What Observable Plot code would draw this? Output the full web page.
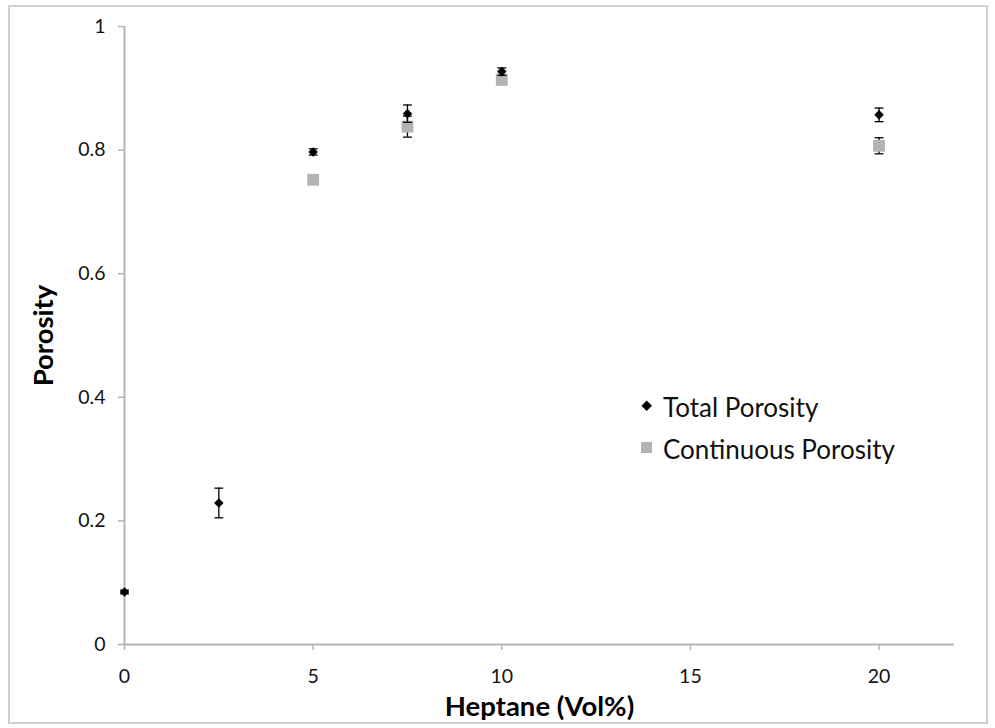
<!DOCTYPE html>
<html>
<head>
<meta charset="utf-8">
<script src="https://cdn.jsdelivr.net/npm/d3@7"></script>
<script src="https://cdn.jsdelivr.net/npm/@observablehq/plot@0.6"></script>
<style>
  html, body { margin: 0; padding: 0; background: #fff; }
  #wrap { position: relative; width: 995px; height: 728px; overflow: hidden; font-family: Lato, "Open Sans", sans-serif; }
  #border { position: absolute; left: 8px; top: 5px; width: 976px; height: 715px; border: 2px solid #d0d0d0; pointer-events: none; }
  #chart { position: absolute; left: 0; top: 0; }
  .leg { position: absolute; font-size: 26px; color: #111; white-space: nowrap; line-height: 1; }
  .leg svg { position: absolute; left: 0; top: 0; }
</style>
</head>
<body>
<div id="wrap">
  <div id="chart"></div>
  <div id="border"></div>
  <div id="legend"></div>
</div>
<script>
// Data
const heptane = [0, 2.5, 5, 7.5, 10, 20];
const totalPorosity = [0.085, 0.229, 0.797, 0.859, 0.927, 0.857];
const totalError = [0.003, 0.024, 0.005, 0.014, 0.006, 0.011];

const continuousHeptane = [5, 7.5, 10, 20];
const continuousPorosity = [0.752, 0.838, 0.914, 0.807];
const continuousError = [0.004, 0.017, 0.008, 0.013];

const xTicks = [0, 5, 10, 15, 20];
const yTicks = [0, 0.2, 0.4, 0.6, 0.8, 1];
const seriesNames = ["Total Porosity", "Continuous Porosity"];
const xTitle = "Heptane (Vol%)";
const yTitle = "Porosity";

const total = heptane.map((x, i) => ({x, y: totalPorosity[i], e: totalError[i]}));
const cont = continuousHeptane.map((x, i) => ({x, y: continuousPorosity[i], e: continuousError[i]}));

const capSymbol = {
  draw(context, size) {
    const w = Math.sqrt(size);
    context.moveTo(-w / 2, 0);
    context.lineTo(w / 2, 0);
  }
};

const axisGray = "#b4b4b4";
const squareGray = "#b3b3b3";

function errorMarks(data) {
  return [
    Plot.ruleX(data, {x: "x", y1: d => d.y - d.e, y2: d => d.y + d.e, stroke: "#000", strokeWidth: 1.3}),
    Plot.dot(data, {x: "x", y: d => d.y + d.e, symbol: capSymbol, r: 5, stroke: "#000", strokeWidth: 1.3}),
    Plot.dot(data, {x: "x", y: d => d.y - d.e, symbol: capSymbol, r: 5, stroke: "#000", strokeWidth: 1.3})
  ];
}

const chart = Plot.plot({
  width: 995,
  height: 728,
  marginLeft: 124,
  marginRight: 41,
  marginTop: 26,
  marginBottom: 84,
  style: {fontFamily: "Lato, 'Open Sans', sans-serif", background: "transparent"},
  x: {domain: [0, 22]},
  y: {domain: [0, 1]},
  marks: [
    Plot.axisX({ticks: xTicks, tickSize: 6, tickPadding: 19, stroke: axisGray, strokeWidth: 1.5, fill: "#111", fontSize: 19.5, label: null, tickFormat: d => String(d)}),
    Plot.axisY({ticks: yTicks, tickSize: 6, tickPadding: 13, stroke: axisGray, strokeWidth: 1.5, fill: "#111", fontSize: 19.5, label: null, tickFormat: d => (d === 0 || d === 1) ? String(d) : d.toFixed(1)}),
    Plot.ruleX([0], {stroke: axisGray, strokeWidth: 2}),
    Plot.ruleY([0], {stroke: axisGray, strokeWidth: 2}),
    ...errorMarks(cont),
    Plot.dot(cont, {x: "x", y: "y", symbol: "square", r: 6.7, fill: squareGray, stroke: "none"}),
    ...errorMarks(total),
    Plot.dot(total, {x: "x", y: "y", symbol: "diamond2", r: 4.3, fill: "#000", stroke: "none"}),
    Plot.text([xTitle], {frameAnchor: "bottom", dy: 63, fontSize: 27.5, fontWeight: "bold", fill: "#000", lineAnchor: "middle", textAnchor: "middle"}),
    Plot.text([yTitle], {frameAnchor: "left", dx: -80, rotate: -90, fontSize: 27.5, fontWeight: "bold", fill: "#000", lineAnchor: "middle", textAnchor: "middle"})
  ]
});
document.getElementById("chart").appendChild(chart);

// Legend (HTML overlay inside plot area)
const legend = document.getElementById("legend");
const items = [
  {name: seriesNames[0], left: 640, top: 394, svg: '<svg width="14" height="24"><rect x="3" y="8" width="7.4" height="7.4" transform="rotate(45 6.7 11.7)" fill="#000"/></svg>'},
  {name: seriesNames[1], left: 640, top: 436, svg: '<svg width="14" height="24"><rect x="1" y="6" width="11" height="11" fill="' + squareGray + '"/></svg>'}
];
for (const it of items) {
  const div = document.createElement("div");
  div.className = "leg";
  div.style.left = it.left + "px";
  div.style.top = it.top + "px";
  div.innerHTML = it.svg + '<span style="margin-left:23px;display:inline-block;line-height:24px">' + it.name + '</span>';
  legend.appendChild(div);
}
</script>
</body>
</html>
